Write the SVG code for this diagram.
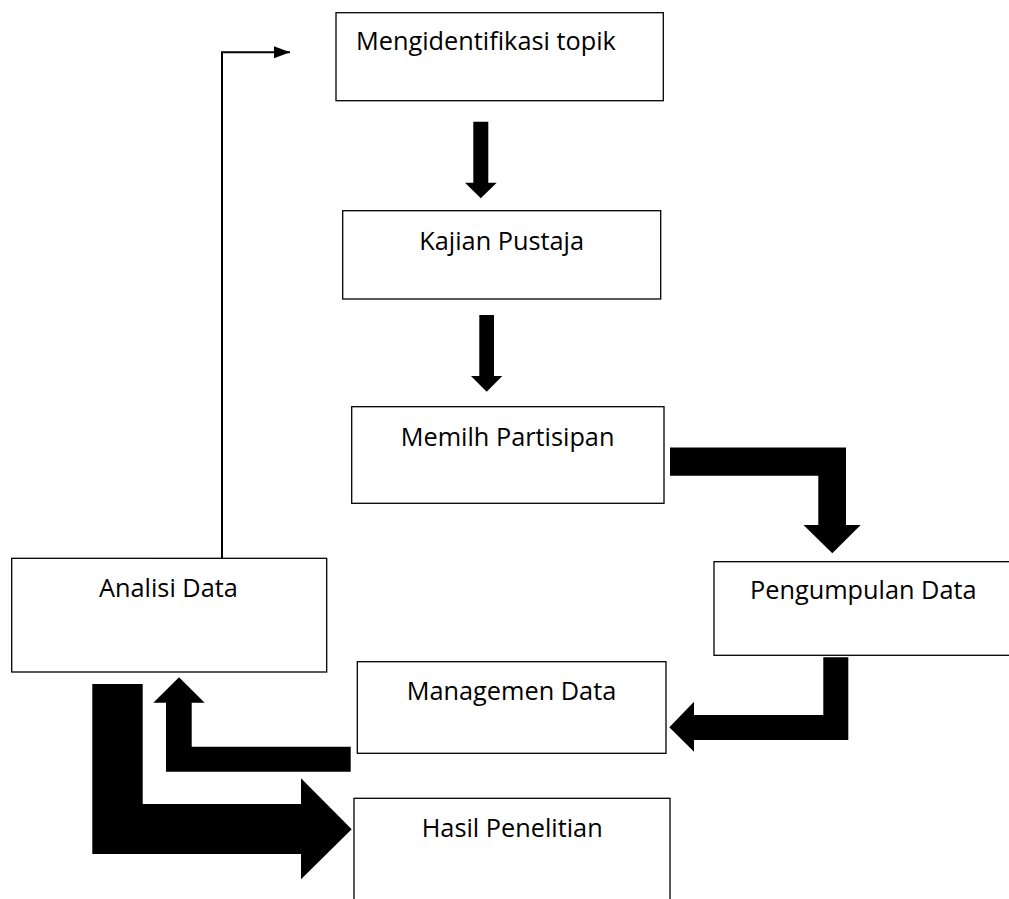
<svg xmlns="http://www.w3.org/2000/svg" width="1009" height="899" viewBox="0 0 1009 899">
  <style>
    .box { fill: #ffffff; stroke: #000000; stroke-width: 1.3; }
    .label { font-family: "Open Sans", "Noto Sans", "Liberation Sans", sans-serif; font-size: 25.3px; fill: #000000; }
    .block { fill: #000000; stroke: none; }
    .thin { fill: none; stroke: #000000; stroke-width: 2; }
  </style>
  <defs>
    <marker id="tip" markerUnits="userSpaceOnUse" markerWidth="18" markerHeight="14" refX="16" refY="6" orient="auto">
      <path d="M0,0 L16,6 L0,12 Z" fill="#000000"/>
    </marker>
  </defs>
  <rect width="1009" height="899" fill="#ffffff"/>

  <g id="connectors">
    <polyline class="thin" points="152.3,559 222,559 222,52.3 290,52.3" marker-end="url(#tip)"/>
    <path class="block" d="M473.3,121.7 H488.3 V182.7 H496.7 L480.8,198.3 L465,182.7 H473.3 Z"/>
    <path class="block" d="M479.3,315 H494 V376 H502.3 L486.7,391.7 L471,376 H479.3 Z"/>
    <path class="block" d="M670,447.5 H846 V525 H860.7 L832.3,553.3 L803.5,525 H818.3 V475.7 H670 Z"/>
    <path class="block" d="M823.3,657.3 H848.3 V740 H694 V751.7 L669.3,727.3 L694,701.7 V715 H823.3 Z"/>
    <path class="block" d="M350.7,746.7 V771.7 H166 V702.7 H153.3 L179,677.3 L204.7,702.7 H191.7 V746.7 Z"/>
    <path class="block" d="M92.3,684 H142.7 V804 H301 V778.3 L351.7,829.3 L301,879.3 V854 H92.3 Z"/>
  </g>

  <g id="node-topik">
    <rect class="box" x="336" y="12.7" width="327.3" height="88"/>
    <text class="label" x="356" y="50">Mengidentifikasi topik</text>
  </g>
  <g id="node-kajian">
    <rect class="box" x="342.7" y="210.7" width="318" height="88.3"/>
    <text class="label" x="419.3" y="250">Kajian Pustaja</text>
  </g>
  <g id="node-partisipan">
    <rect class="box" x="351.7" y="406.7" width="312.3" height="96.6"/>
    <text class="label" x="400.7" y="445.7">Memilh Partisipan</text>
  </g>
  <g id="node-pengumpulan">
    <rect class="box" x="714" y="561.7" width="320" height="93.6"/>
    <text class="label" x="750" y="599.3">Pengumpulan Data</text>
  </g>
  <g id="node-managemen">
    <rect class="box" x="357.3" y="661.7" width="308.7" height="91.6"/>
    <text class="label" x="406.7" y="700">Managemen Data</text>
  </g>
  <g id="node-hasil">
    <rect class="box" x="354" y="798.3" width="316" height="130"/>
    <text class="label" x="421.7" y="836.7">Hasil Penelitian</text>
  </g>
  <g id="node-analisi">
    <rect class="box" x="11.7" y="558.3" width="315" height="113.7"/>
    <text class="label" x="99" y="596.7">Analisi Data</text>
  </g>
</svg>
